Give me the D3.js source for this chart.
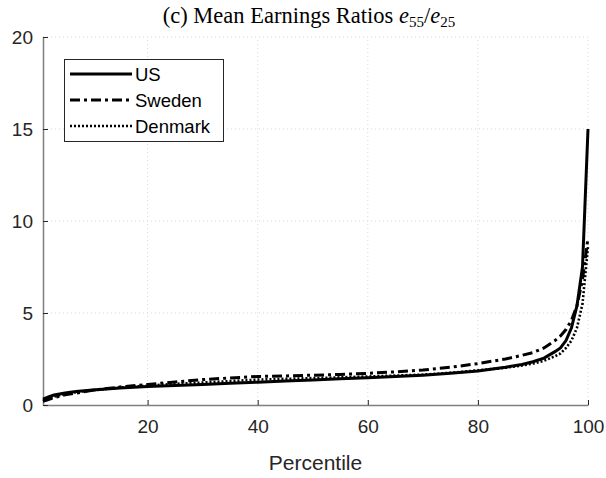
<!DOCTYPE html>
<html><head><meta charset="utf-8">
<script src="https://cdn.jsdelivr.net/npm/d3@7"></script>
<style>body{margin:0;background:#fff}svg{display:block}</style>
</head><body>
<script>
const percentiles = [1,2,3,4,5,7,10,15,20,25,30,35,40,45,50,55,60,65,70,75,80,85,88,90,92,94,95,96,97,98,99,100];
const usValues     = [0.32,0.44,0.54,0.60,0.65,0.73,0.82,0.93,1.00,1.06,1.12,1.18,1.24,1.30,1.36,1.42,1.48,1.55,1.62,1.72,1.85,2.05,2.20,2.35,2.55,2.90,3.10,3.50,4.20,5.40,7.50,15.0];
const swedenValues = [0.20,0.30,0.40,0.48,0.55,0.65,0.80,0.98,1.12,1.25,1.38,1.47,1.55,1.58,1.62,1.66,1.72,1.80,1.90,2.05,2.25,2.50,2.70,2.85,3.10,3.50,3.75,4.10,4.60,5.40,6.80,9.10];
const denmarkValues= [0.25,0.35,0.45,0.53,0.60,0.70,0.80,0.95,1.05,1.15,1.22,1.30,1.38,1.42,1.46,1.50,1.55,1.60,1.65,1.75,1.88,2.02,2.15,2.25,2.40,2.65,2.80,3.10,3.50,4.20,5.50,8.60];
const seriesNames = ["US","Sweden","Denmark"];
const xTicks = [20,40,60,80,100];
const yTicks = [0,5,10,15,20];

const W=606,H=478;
const m={l:43,r:18,t:37,b:73};
const svg=d3.select("body").append("svg").attr("width",W).attr("height",H);
const x=d3.scaleLinear().domain([1,100]).range([m.l,W-m.r]);
const y=d3.scaleLinear().domain([0,20]).range([H-m.b,m.t]);

// grid
const grid=svg.append("g").attr("stroke","#d8d8d8").attr("stroke-width",1).attr("stroke-dasharray","1,3");
xTicks.forEach(t=>grid.append("line").attr("x1",x(t)).attr("x2",x(t)).attr("y1",y(0)).attr("y2",y(20)));
yTicks.filter(t=>t>0).forEach(t=>grid.append("line").attr("x1",x(1)).attr("x2",x(100)).attr("y1",y(t)).attr("y2",y(t)));

// axes
const axCol="#7f7f7f";
const xAxis=svg.append("g").attr("transform",`translate(0,${y(0)})`)
  .call(d3.axisBottom(x).tickValues(xTicks).tickSizeInner(-5).tickSizeOuter(0).tickPadding(15));
const yAxis=svg.append("g").attr("transform",`translate(${x(1)},0)`)
  .call(d3.axisLeft(y).tickValues(yTicks).tickSizeInner(-5).tickSizeOuter(0).tickPadding(10));
[xAxis,yAxis].forEach(a=>{
  a.select(".domain").attr("stroke",axCol).attr("stroke-width",1.5);
  a.selectAll(".tick line").attr("stroke","#262626");
  a.selectAll("text").attr("font-family","Liberation Sans, Arial, sans-serif").attr("font-size",19).attr("fill","#262626");
});

// lines
const line=d3.line().x((d,i)=>x(percentiles[i])).y(d=>y(d));
const styles=[{dash:null,w:3},{dash:"10,4,3,4",w:3},{dash:"2,2",w:2.6}];
[usValues,swedenValues,denmarkValues].forEach((vals,k)=>{
  svg.append("path").datum(vals).attr("d",line).attr("fill","none").attr("stroke","#000")
    .attr("stroke-width",styles[k].w).attr("stroke-dasharray",styles[k].dash);
});

// title
const title=svg.append("text").attr("x",309).attr("y",23).attr("text-anchor","middle")
  .attr("font-family","Liberation Serif, DejaVu Serif, serif").attr("font-size",22.5).attr("fill","#000");
title.append("tspan").text("(c) Mean Earnings Ratios ");
title.append("tspan").attr("font-style","italic").text("e");
title.append("tspan").attr("font-size",15).attr("dy",4).text("55");
title.append("tspan").attr("dy",-4).text("/");
title.append("tspan").attr("font-style","italic").text("e");
title.append("tspan").attr("font-size",15).attr("dy",4).text("25");

// x label
svg.append("text").attr("x",(x(1)+x(100))/2).attr("y",470).attr("text-anchor","middle")
  .attr("font-family","Liberation Sans, Arial, sans-serif").attr("font-size",21).attr("fill","#262626").text("Percentile");

// legend
const lg=svg.append("g");
lg.append("rect").attr("x",64.5).attr("y",59.5).attr("width",159).attr("height",82).attr("fill","#fff").attr("stroke","#262626").attr("stroke-width",1);
seriesNames.forEach((n,k)=>{
  const yy=74+k*26;
  lg.append("line").attr("x1",70).attr("x2",132).attr("y1",yy).attr("y2",yy).attr("stroke","#000")
    .attr("stroke-width",styles[k].w).attr("stroke-dasharray",styles[k].dash);
  lg.append("text").attr("x",135).attr("y",yy+6.5).attr("font-family","Liberation Sans, Arial, sans-serif")
    .attr("font-size",18.5).attr("fill","#000").text(n);
});
</script>
</body></html>
